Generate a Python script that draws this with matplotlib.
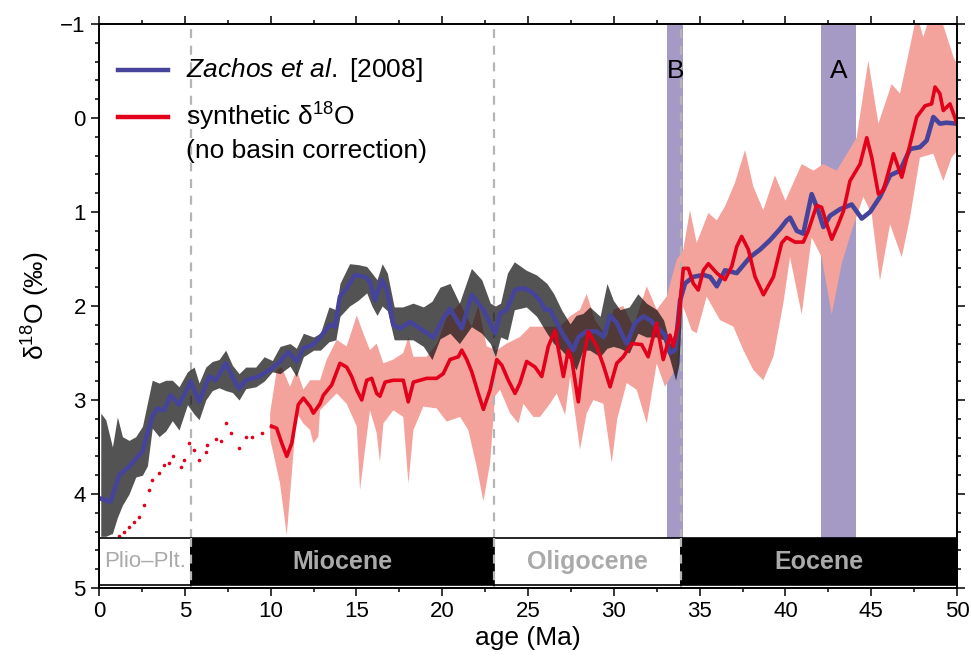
import matplotlib
matplotlib.use("Agg")
import matplotlib.pyplot as plt
import numpy as np

plt.rcParams['font.family'] = ['Liberation Sans', 'DejaVu Sans']
plt.rcParams['mathtext.fontset'] = 'custom'
plt.rcParams['mathtext.rm'] = 'Liberation Sans'
plt.rcParams['mathtext.it'] = 'Liberation Sans:italic'

# ---------------- data ----------------
zachos_age = [0.1,0.68,1.17,1.75,2.52,3.1,3.4,3.79,4.18,4.66,5.34,5.83,6.41,6.8,7.38,7.77,8.16,8.55,9.32,10.1,
              10.55,11.03,11.52,11.91,12.49,12.98,13.46,13.75,14.04,14.43,14.92,15.5,15.79,16.08,16.47,16.77,17.15,17.54,18.12,18.71,
              19.29,19.48,20.07,20.45,21.14,21.72,22.4,23.08,23.37,23.76,24.24,24.73,25.21,25.7,25.99,26.28,27.06,27.64,27.93,28.42,
              29.0,29.39,29.78,30.17,30.55,30.75,31.24,31.72,32.11,32.6,32.98,33.27,33.57,33.86,34.15,34.63,35.22,35.61,36.0,36.48,
              37.16,37.94,38.52,39.1,39.69,40.07,40.27,40.66,41.04,41.53,41.92,42.21,42.6,43.18,43.86,44.45,44.93,45.51,46.1,46.68,
              47.26,47.84,48.23,48.62,49.0,49.39,49.98]
zachos_d18o = [4.05,4.08,3.8,3.71,3.55,3.18,3.09,3.11,2.95,3.05,2.8,3.02,2.75,2.79,2.61,2.75,2.88,2.79,2.75,2.66,
               2.59,2.49,2.59,2.45,2.41,2.31,2.2,2.22,1.9,1.81,1.67,1.69,1.74,1.94,1.72,1.83,2.2,2.24,2.17,2.24,
               2.31,2.34,2.13,2.03,2.24,1.88,2.04,2.29,2.08,2.04,1.83,1.81,1.85,1.94,2.04,2.04,2.31,2.47,2.33,2.27,
               2.27,2.33,2.1,2.18,2.33,2.4,2.18,2.11,2.15,2.24,2.31,2.5,2.47,1.94,1.76,1.69,1.67,1.69,1.79,1.62,
               1.65,1.48,1.4,1.3,1.18,1.09,1.06,1.2,1.23,0.81,0.99,1.16,1.04,0.97,0.92,1.07,1.0,0.84,0.61,0.56,
               0.33,0.31,0.24,-0.01,0.06,0.05,0.06]

# raw benthic data envelope (black dots)
raw_age = [0.1,0.39,0.78,1.07,1.36,1.75,2.14,2.53,2.82,3.1,3.5,3.89,4.27,4.66,5.15,5.54,5.83,6.22,6.6,6.99,
           7.38,7.77,8.16,8.55,9.13,9.62,10.1,10.55,11.13,11.5,11.91,12.5,12.9,13.4,13.8,14.04,14.6,15.1,15.6,15.9,
           16.2,16.5,16.8,17.2,17.7,18.3,18.9,19.4,19.87,20.45,21.0,21.7,22.3,22.8,23.1,23.4,23.8,24.2,24.9,25.5,
           26.1,26.5,26.95,27.45,27.8,28.2,28.6,29.2,29.6,29.97,30.36,30.9,31.4,31.9,32.5,32.9,33.27,33.6,33.8,33.96]
raw_hi = [3.14,3.21,3.5,3.18,3.39,3.43,3.39,3.28,3.03,2.79,2.82,2.79,2.79,2.86,2.7,2.65,2.82,2.65,2.59,2.57,
          2.47,2.63,2.72,2.65,2.65,2.54,2.58,2.43,2.4,2.45,2.29,2.33,2.29,2.01,2.04,1.76,1.55,1.56,1.58,1.65,
          1.72,1.55,1.65,2.01,2.01,1.97,2.01,1.95,1.8,1.76,1.97,1.6,1.72,1.97,2.0,1.97,1.65,1.53,1.62,1.67,
          1.76,1.87,2.04,2.19,2.1,2.08,2.01,2.11,1.76,1.94,2.04,2.01,1.87,1.97,2.04,2.15,2.4,2.26,1.83,1.65]
raw_lo = [4.45,4.45,4.42,4.25,4.12,4.0,3.82,3.8,3.7,3.3,3.39,3.33,3.22,3.32,3.05,3.15,3.21,3.0,2.9,2.87,
          2.9,2.92,3.0,2.88,2.86,2.8,2.7,2.72,2.64,2.75,2.54,2.47,2.47,2.38,2.36,2.11,2.0,1.94,1.86,2.0,
          2.1,2.0,2.05,2.36,2.36,2.36,2.43,2.57,2.35,2.29,2.4,2.22,2.29,2.4,2.54,2.33,2.36,2.04,2.01,2.11,
          2.29,2.4,2.47,2.57,2.68,2.47,2.47,2.54,2.45,2.43,2.45,2.5,2.29,2.33,2.33,2.36,2.57,2.79,2.61,1.97]

# synthetic d18O (no basin correction)
synth_age = [10.06,10.35,10.65,10.94,11.23,11.61,11.91,12.3,12.49,12.88,13.07,13.56,14.04,14.43,14.72,15.01,15.31,15.6,15.89,16.18,
             16.37,16.67,17.15,17.73,18.02,18.32,19.09,19.67,20.06,20.45,20.94,21.14,21.43,21.72,22.1,22.4,22.79,23.18,23.47,23.85,
             24.24,24.53,24.92,25.41,25.8,26.18,26.57,27.06,27.35,27.55,27.93,28.22,28.51,29.0,29.39,29.78,30.17,30.55,31.04,31.62,
             32.0,32.49,32.88,33.27,33.47,33.76,34.05,34.34,34.63,34.92,35.22,35.51,36.0,36.48,36.87,37.16,37.45,37.84,38.23,38.72,
             39.3,39.78,40.07,40.56,41.04,41.33,41.82,42.11,42.41,42.7,43.08,43.38,43.76,44.35,44.74,45.03,45.42,45.71,46.3,46.78,
             47.17,47.65,48.14,48.52,48.72,49.0,49.2,49.59,50.0]
synth_d18o = [3.28,3.3,3.46,3.6,3.46,3.05,2.98,3.07,3.14,3.04,2.95,2.84,2.61,2.65,2.75,2.89,3.0,2.79,2.77,2.93,
              2.96,2.81,2.79,2.79,3.02,2.81,2.77,2.77,2.72,2.57,2.54,2.47,2.57,2.7,2.93,3.1,2.89,2.57,2.63,2.79,
              2.93,2.82,2.59,2.65,2.75,2.43,2.26,2.75,2.47,2.57,3.02,2.57,2.27,2.43,2.63,2.86,2.61,2.54,2.4,2.41,
              2.54,2.18,2.57,2.31,2.43,2.18,1.6,1.6,1.76,1.83,1.62,1.55,1.65,1.72,1.58,1.37,1.26,1.4,1.69,1.88,
              1.69,1.33,1.27,1.32,1.32,1.2,0.93,0.95,1.13,1.29,1.13,0.99,0.67,0.49,0.21,0.42,0.81,0.77,0.38,0.63,
              0.35,-0.01,-0.13,-0.15,-0.33,-0.26,-0.08,-0.15,0.06]

# uncertainty band of synthetic record
band_top_age = [9.97,10.36,10.65,11.13,11.52,11.91,12.3,12.88,13.27,13.85,14.43,15.02,15.4,15.79,16.18,16.57,17.15,17.73,18.03,18.32,
                19.09,19.7,20.26,21.04,21.72,22.1,22.59,23.18,23.76,24.53,25.12,26.28,26.86,27.45,28.03,28.42,28.9,29.59,29.97,30.55,
                31.14,31.92,32.5,33.08,33.66,34.05,34.44,34.83,35.51,36.0,36.48,37.06,37.65,38.13,38.71,39.39,40.0,40.95,41.63,42.21,
                42.99,44.15,44.83,45.42,46.19,46.68,47.17,47.65,48.04,48.43,49.0,49.79,50.0]
band_top = [3.14,2.68,2.65,2.86,2.68,2.89,2.79,2.79,2.57,2.36,2.43,2.1,2.29,2.47,2.4,2.61,2.57,2.5,2.33,2.54,
            2.54,2.4,2.12,1.97,2.22,2.0,2.43,2.47,2.4,2.33,2.22,2.22,2.22,2.11,2.04,1.87,2.15,2.33,2.04,2.0,
            2.22,1.79,2.04,1.9,1.51,1.4,0.98,1.33,1.01,1.09,0.94,0.69,0.34,0.73,0.98,0.61,0.88,0.49,0.56,0.49,
            0.56,0.21,-0.61,0.06,-0.36,-0.26,-0.68,-1.1,-0.86,-1.1,-1.1,-0.65,-0.57]
band_bot_age = [9.97,10.55,10.94,11.52,11.91,12.3,12.49,12.78,12.88,13.85,14.43,15.02,15.21,15.5,15.79,16.18,16.37,16.57,17.15,17.73,
                18.03,18.32,18.9,19.68,20.26,21.04,21.52,22.01,22.4,22.79,23.08,23.37,23.95,24.44,24.73,25.31,25.7,26.28,26.67,27.16,
                27.45,28.03,28.42,28.81,29.39,29.88,30.2,30.75,31.33,31.92,32.5,32.98,33.66,34.05,34.54,34.83,35.41,36.19,36.97,37.55,
                38.13,38.71,39.3,39.88,40.27,40.95,41.53,42.11,42.7,43.28,43.86,44.54,45.03,45.51,46.1,46.78,47.26,47.84,48.62,49.2,
                49.69,50.0]
band_bot = [3.41,3.89,4.44,3.14,3.25,3.32,3.46,3.39,3.11,2.93,3.04,3.28,3.96,3.53,3.11,3.35,3.66,3.25,3.11,3.18,
            3.89,3.32,3.07,3.09,3.23,3.18,3.32,3.71,4.08,3.67,2.96,2.89,3.14,3.25,3.04,3.18,3.18,3.04,2.93,3.16,
            2.75,3.53,3.14,3.0,3.04,3.67,3.2,2.82,2.89,3.25,2.61,2.86,2.65,2.01,2.26,2.29,1.9,2.15,2.22,2.47,
            2.68,2.79,2.54,1.97,1.48,2.09,1.27,1.48,2.09,1.55,1.2,0.84,1.02,1.73,1.13,1.48,1.06,0.42,0.38,0.67,
            0.42,0.35]

# synthetic record 0-10 Ma (dotted)
young_age = [1.17,1.45,1.75,2.05,2.33,2.6,2.91,3.1,3.5,3.79,4.08,4.31,4.76,4.95,5.24,5.54,5.83,6.22,6.31,6.8,
             7.09,7.38,7.67,8.16,8.55,8.94,9.52,10.0]
young_d18o = [4.45,4.4,4.35,4.3,4.24,4.12,3.96,3.85,3.78,3.69,3.67,3.6,3.71,3.64,3.46,3.53,3.64,3.55,3.48,3.41,
              3.44,3.25,3.35,3.51,3.39,3.39,3.35,3.28]

# events
event_labels = ['B', 'A']
event_start = [33.1, 42.1]
event_end = [34.05, 44.1]

# epochs
epoch_names = ['Plio\u2013Plt.', 'Miocene', 'Oligocene', 'Eocene']
epoch_bounds = [0.0, 5.33, 23.03, 33.9, 50.0]
epoch_fill = ['white', 'black', 'white', 'black']
epoch_bold = [False, True, True, True]
epoch_size = [16, 18, 18, 18]
boundary_lines = [5.33, 23.03, 33.9]

# ---------------- figure ----------------
BLUE = '#45449a'
RED = '#e3001b'
PINK = '#f3a29c'
PURPLE = '#a59ac6'
GREY = '#b5b5b5'

fig = plt.figure(figsize=(9.71, 6.56), dpi=100)
ax = fig.add_axes([0.102, 0.1037, 0.8836, 0.8597])
ax.set_xlim(0, 50)
ax.set_ylim(5, -1)

# purple event bands
for s, e, lab in zip(event_start, event_end, event_labels):
    ax.axvspan(s, e, ymin=(5 - 4.47) / 6.0, ymax=1, color=PURPLE, lw=0, zorder=1)
    ax.text((s + e) / 2, -0.5, lab, ha='center', va='center', fontsize=19, zorder=6)

# pink band
poly_x = np.r_[band_top_age, band_bot_age[::-1]]
poly_y = np.r_[band_top, band_bot[::-1]]
ax.fill(poly_x, poly_y, color=PINK, lw=0, zorder=2)

# dashed boundary lines
for b in boundary_lines:
    ax.axvline(b, color=GREY, lw=1.6, ls=(0, (4, 3.5)), zorder=3)

# raw data
ax.fill_between(raw_age, raw_hi, raw_lo, color='#111111', alpha=0.72, lw=0, zorder=3.5)

# lines
ax.plot(zachos_age, zachos_d18o, color=BLUE, lw=3.3, solid_joinstyle='round', zorder=4)
ax.plot(synth_age, synth_d18o, color=RED, lw=2.6, solid_joinstyle='round', zorder=5)
ax.plot(young_age, young_d18o, ls='none', marker='o', ms=2.6, mew=0, color=RED, zorder=5)

# epoch bar
for i, name in enumerate(epoch_names):
    x0, x1 = epoch_bounds[i], epoch_bounds[i + 1]
    ax.fill_between([x0, x1], 4.47, 4.97, facecolor=epoch_fill[i], edgecolor='black', lw=1.2, zorder=6)
    ax.text((x0 + x1) / 2, 4.72, name, ha='center', va='center', color='#aaaaaa',
            fontsize=epoch_size[i], fontweight='bold' if epoch_bold[i] else 'normal', zorder=7)
for b in boundary_lines:
    ax.plot([b, b], [4.47, 4.97], color=GREY, lw=1.6, ls=(0, (4, 3.5)), zorder=6.5)

# legend (manual)
ax.plot([0.022, 0.080], [0.918, 0.918], transform=ax.transAxes, color=BLUE, lw=3.2, zorder=8)
ax.plot([0.022, 0.080], [0.835, 0.835], transform=ax.transAxes, color=RED, lw=3.2, zorder=8)
ax.text(0.101, 0.918, r'$\mathit{Zachos\ et\ al.}$ [2008]', transform=ax.transAxes,
        fontsize=19, va='center', ha='left', zorder=8)
ax.text(0.101, 0.835, r'synthetic $\mathrm{\delta}^{18}$O', transform=ax.transAxes,
        fontsize=19, va='center', ha='left', zorder=8)
ax.text(0.101, 0.775, '(no basin correction)', transform=ax.transAxes,
        fontsize=19, va='center', ha='left', zorder=8)

# axes styling
ax.set_xticks(np.arange(0, 51, 5))
ax.set_xticks(np.arange(0, 50.1, 2.5), minor=True)
ax.set_yticks(np.arange(-1, 5.1, 1))
ax.set_yticks(np.arange(-1, 5.01, 0.2), minor=True)
ax.set_yticklabels(['\u22121', '0', '1', '2', '3', '4', '5'])
ax.tick_params(which='both', direction='out', top=True, right=True, width=1.1, labelsize=16)
ax.tick_params(which='major', length=6)
ax.tick_params(which='minor', length=3)
for sp in ax.spines.values():
    sp.set_linewidth(1.4)
    sp.set_zorder(10)

ax.set_xlabel('age (Ma)', fontsize=19, labelpad=3)
ax.set_ylabel(r'$\mathrm{\delta}^{18}$O (‰)', fontsize=19, labelpad=6)

fig.savefig('out.png', dpi=100)
